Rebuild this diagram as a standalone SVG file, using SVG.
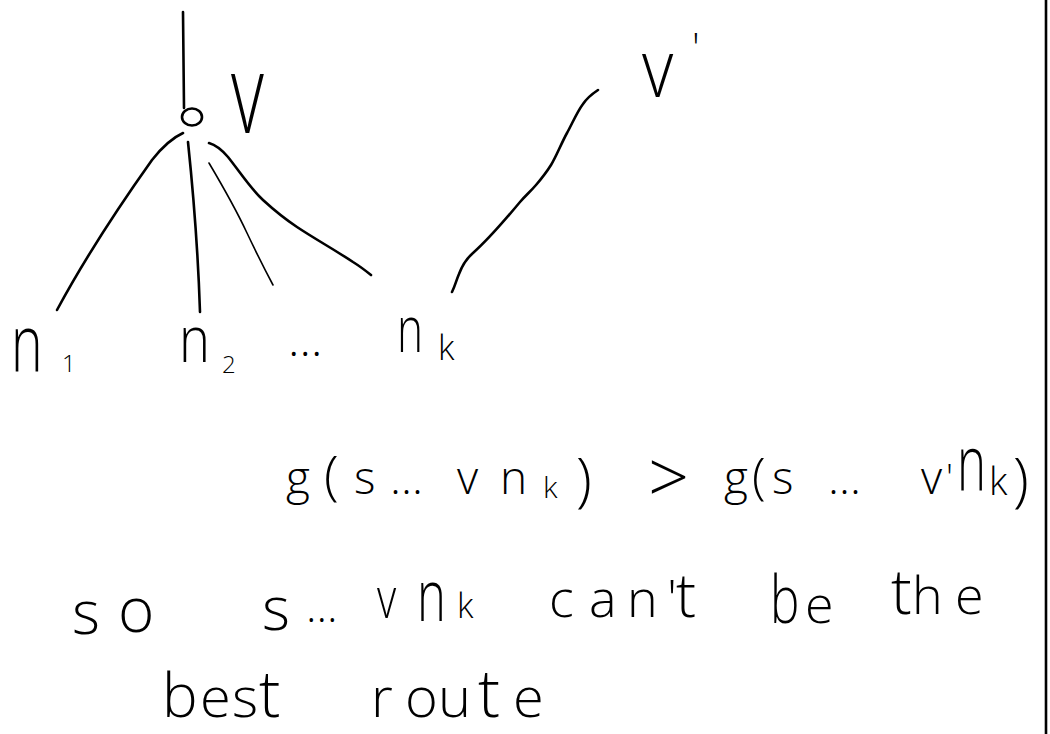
<svg xmlns="http://www.w3.org/2000/svg" width="1050" height="734" viewBox="0 0 1050 734">
<style>
.ink{fill:none;stroke:#000;stroke-width:2.6;stroke-linecap:round;stroke-linejoin:round}
.thin{fill:none;stroke:#000;stroke-width:1.6;stroke-linecap:round}
text{font-family:"Open Sans","DejaVu Sans",sans-serif;font-weight:300;fill:#000}
</style>
<rect width="1050" height="734" fill="#fff"/>
<g id="connectors">
<path class="ink" d="M183,12 L184,108"/>
<path class="ink" d="M183,133 C172,138 163,146 152,160 C120,205 85,258 57,310"/>
<path class="ink" d="M188,142 C193,190 198,250 200,312"/>
<path class="thin" d="M209,163 C225,190 240,218 247,233 C256,252 265,270 273,285"/>
<path class="ink" d="M209,143 C216,145 222,150 228,157 C240,172 250,188 263,200 C275,211 285,219 297,227 C315,239 335,250 353,262 C361,267 366,271 371,275"/>
<path class="ink" d="M598,90 C592,94 587,98 583,104 C577,112 572,124 567,133 C561,144 556,157 551,165 C546,173 542,178 536,185 C530,192 526,195 520,202 C505,220 490,238 473,253 C466,259 462,266 459,274 C456,281 455,286 452,292"/>
</g>
<g id="node-v">
<ellipse class="ink" cx="192" cy="117" rx="10" ry="8.5"/>
<text transform="translate(231,133) scale(0.65,1)" font-size="110">v</text>
</g>
<g id="node-vprime">
<text transform="translate(642,97) scale(0.83,1)" font-size="82">v</text>
<text x="692" y="62" font-size="40">'</text>
</g>
<g id="node-n1">
<text transform="translate(11,372) scale(0.67,1)" font-size="80">n</text>
<text x="62" y="372" font-size="24">1</text>
</g>
<g id="node-n2">
<text transform="translate(179,362) scale(0.82,1)" font-size="64">n</text>
<text x="222" y="373" font-size="24">2</text>
</g>
<g id="ellipsis">
<text x="288" y="356" font-size="48">…</text>
</g>
<g id="node-nk">
<text transform="translate(397,352) scale(0.69,1)" font-size="64">n</text>
<text x="438" y="360" font-size="34">k</text>
</g>
<g id="text-inequality">
<text y="494" font-size="46"><tspan x="286">g</tspan><tspan x="324" font-size="54">(</tspan><tspan x="354">s</tspan><tspan x="390">…</tspan><tspan x="457">v</tspan><tspan x="500">n</tspan><tspan x="543" y="498" font-size="30">k</tspan><tspan x="576" y="500" font-size="58">)</tspan><tspan x="648" y="503" font-size="72">&gt;</tspan><tspan x="724" y="494">g</tspan><tspan x="752" font-size="50">(</tspan><tspan x="772">s</tspan><tspan x="828">…</tspan><tspan x="921">v</tspan><tspan x="946" y="490" font-size="36">'</tspan></text>
<text transform="translate(957,491) scale(0.63,1)" font-size="78">n</text>
<text x="989" y="495" font-size="38">k</text>
<text x="1013" y="500" font-size="58">)</text>
</g>
<g id="text-conclusion">
<text><tspan x="72" y="634" font-size="60">s</tspan><tspan x="118" y="632" font-size="62">o</tspan><tspan x="262" y="630" font-size="60">s</tspan><tspan x="306" y="622" font-size="44">…</tspan></text>
<text transform="translate(377,618) scale(0.72,1)" font-size="58">v</text>
<text transform="translate(417,621) scale(0.68,1)" font-size="72">n</text>
<text x="457" y="618" font-size="34">k</text>
<text font-size="52" y="617"><tspan x="549">c</tspan><tspan x="589">a</tspan><tspan x="627">n</tspan><tspan x="667">'</tspan><tspan x="676" font-size="60">t</tspan><tspan x="805" y="623">e</tspan><tspan x="891" y="614" font-size="62">t</tspan><tspan x="912">h</tspan><tspan x="955">e</tspan></text>
<text transform="translate(770,623) scale(0.75,1)" font-size="66">b</text>
<text font-size="56" y="717"><tspan x="162" font-size="60">b</tspan><tspan x="200">e</tspan><tspan x="232">s</tspan><tspan x="259" font-size="64">t</tspan><tspan x="371">r</tspan><tspan x="405">o</tspan><tspan x="438">u</tspan><tspan x="478" font-size="66">t</tspan><tspan x="513">e</tspan></text>
</g>
<line class="ink" x1="1046" y1="0" x2="1046" y2="734" stroke-width="2"/>
</svg>
